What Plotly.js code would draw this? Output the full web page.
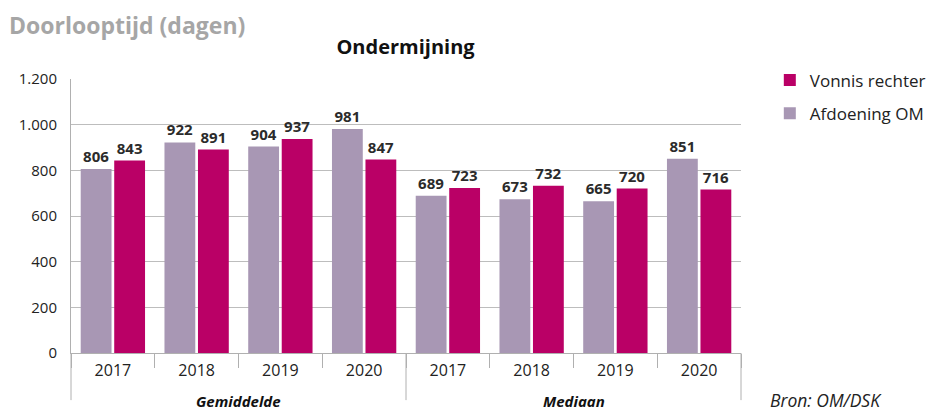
<!DOCTYPE html>
<html>
<head>
<meta charset="utf-8">
<script src="https://cdn.plot.ly/plotly-3.0.1.min.js"></script>
<style>html,body{margin:0;padding:0;background:#fff;}#chart{width:928px;height:411px;}</style>
</head>
<body>
<div id="chart"></div>
<script>
const groupNames = ["Gemiddelde", "Mediaan"];
const years = ["2017","2018","2019","2020","2017","2018","2019","2020"];
const afdoeningOM = [806, 922, 904, 981, 689, 673, 665, 851];
const vonnisRechter = [843, 891, 937, 847, 723, 732, 720, 716];
const yTicks = [0, 200, 400, 600, 800, 1000, 1200];

// category positions on a numeric axis (one slot per year)
const xPos = years.map((_, i) => i);
const boundaries = years.map((_, i) => i - 0.5).concat([years.length - 0.5]);

const labelFont = {family: "Open Sans, sans-serif", size: 15, color: "#2b2b2b"};
const lineCol = "#b0b0b0";

const traces = [
  {
    type: "bar", name: "Afdoening OM", x: xPos, y: afdoeningOM, legendgroup: "a", legendrank: 2,
    marker: {color: "#A897B4"},
    texttemplate: "<b>%{y}</b>", textposition: "outside", textfont: labelFont,
    cliponaxis: false, hoverinfo: "skip"
  },
  {
    type: "bar", name: "Vonnis rechter", x: xPos, y: vonnisRechter, legendgroup: "b", legendrank: 1,
    marker: {color: "#BA0066"},
    texttemplate: "<b>%{y}</b>", textposition: "outside", textfont: labelFont,
    cliponaxis: false, hoverinfo: "skip"
  }
];

const shapes = [];
for (let g = 0; g <= groupNames.length; g++) {
  const px = g / groupNames.length;
  shapes.push({type: "line", xref: "paper", yref: "paper", x0: px, x1: px, y0: 0, y1: -0.172,
               line: {color: lineCol, width: 1}});
}

const annotations = groupNames.map((g, i) => ({
  text: "<b><i>" + g + "</i></b>", xref: "paper", yref: "paper",
  x: (i + 0.5) / groupNames.length, y: -0.176, xanchor: "center", yanchor: "middle",
  showarrow: false, font: {size: 15, color: "#111"}
}));
annotations.push(
  {text: "<b>Doorlooptijd (dagen)</b>", xref: "paper", yref: "paper",
   x: -0.095, y: 1.197, xanchor: "left", yanchor: "middle", showarrow: false,
   font: {size: 23, color: "#a6a6a6"}},
  {text: "<i>Bron: OM/DSK</i>", xref: "paper", yref: "paper",
   x: 1.04, y: -0.172, xanchor: "left", yanchor: "middle", showarrow: false,
   font: {size: 17.5, color: "#222"}}
);

const layout = {
  width: 928, height: 411,
  paper_bgcolor: "#fff", plot_bgcolor: "#fff",
  margin: {l: 71, r: 187, t: 79, b: 58, autoexpand: false},
  separators: ",.",
  font: {family: "Open Sans, sans-serif", size: 15, color: "#222"},
  barmode: "group", bargap: 0.2, bargroupgap: 0.08,
  title: {text: "<b>Ondermijning</b>", font: {size: 20, color: "#111"},
          x: 0.437, xanchor: "center", y: 0.885, yanchor: "middle"},
  xaxis: {
    range: [-0.5, years.length - 0.5], tickvals: xPos, ticktext: years,
    showgrid: false, zeroline: false, showline: true, linecolor: lineCol, linewidth: 1,
    ticks: "", ticklabelstandoff: 3,
    minor: {tickvals: boundaries, ticks: "outside", ticklen: 14, tickcolor: lineCol, tickwidth: 1, showgrid: false},
    tickfont: {size: 16, color: "#222"}
  },
  yaxis: {
    range: [0, 1200], tickvals: yTicks, tickformat: ",d",
    showgrid: true, gridcolor: "#bdbdbd", gridwidth: 1,
    showline: true, linecolor: lineCol, linewidth: 1,
    zeroline: false, ticks: "", ticklabelstandoff: 10,
    tickfont: {size: 15, color: "#222"}
  },
  legend: {
    x: 1.043, xanchor: "left", y: 1.06, yanchor: "top",
    traceorder: "grouped", font: {size: 17, color: "#222"},
    itemsizing: "constant", tracegroupgap: 8
  },
  shapes: shapes,
  annotations: annotations
};

Plotly.newPlot("chart", traces, layout, {displayModeBar: false, staticPlot: true});
</script>
</body>
</html>
